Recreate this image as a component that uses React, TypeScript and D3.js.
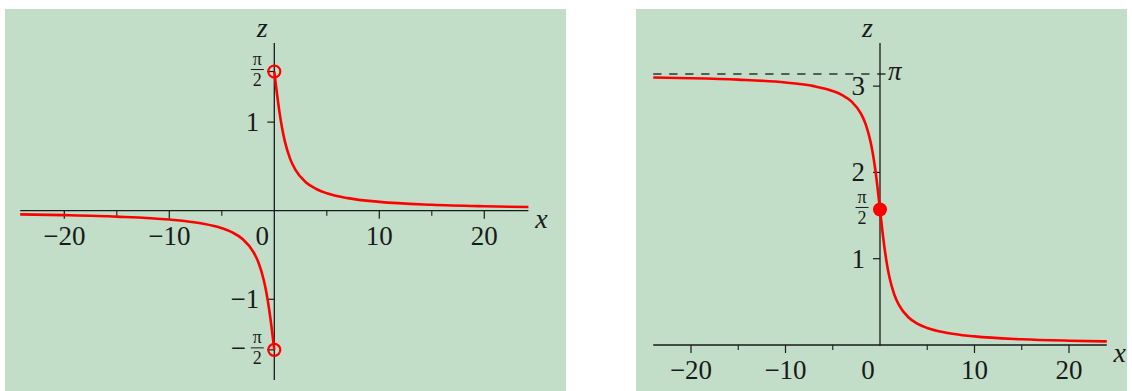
import React from 'react';
import * as d3 from 'd3';

// values: left is z = arccot x with range (-pi/2, pi/2), right with range (0, pi)
const leftPosX = [0, 0.05, 0.1, 0.25, 0.5, 0.75, 1, 1.5, 2, 3, 4, 5, 7, 10, 15, 20, 24.2];
const leftPosZ = [1.571, 1.521, 1.471, 1.326, 1.107, 0.927, 0.785, 0.588, 0.464, 0.322, 0.245, 0.197, 0.142, 0.0997, 0.0666, 0.05, 0.0413];
const leftNegX = [-24.2, -20, -15, -10, -7, -5, -4, -3, -2, -1.5, -1, -0.75, -0.5, -0.25, -0.1, -0.05, 0];
const leftNegZ = [-0.0413, -0.05, -0.0666, -0.0997, -0.142, -0.197, -0.245, -0.322, -0.464, -0.588, -0.785, -0.927, -1.107, -1.326, -1.471, -1.521, -1.571];

const rightX = [-24, -20, -15, -10, -7, -5, -4, -3, -2, -1.5, -1, -0.75, -0.5, -0.25, 0, 0.25, 0.5, 0.75, 1, 1.5, 2, 3, 4, 5, 7, 10, 15, 20, 24];
const rightZ = [3.100, 3.092, 3.075, 3.042, 3.000, 2.944, 2.897, 2.820, 2.678, 2.554, 2.356, 2.214, 2.034, 1.816, 1.571, 1.326, 1.107, 0.927, 0.785, 0.588, 0.464, 0.322, 0.245, 0.197, 0.142, 0.0997, 0.0666, 0.05, 0.0416];

const xMajor = [-20, -10, 0, 10, 20];
const xMinor = [-15, -5, 5, 15];
const leftYTicks = [-1, 1];
const rightYTicks = [1, 2, 3];
const HALF_PI = Math.PI / 2;

const BG = '#c3dec8';
const RED = '#ff0000';
const INK = '#1a1a1a';
const FS = 27;

type Pt = [number, number];
const zip = (xs: number[], zs: number[]): Pt[] => xs.map((x, i) => [x, zs[i]]);
const fmt = (t: number) => (t < 0 ? '\u2212' + Math.abs(t) : String(t));

const txt = (size: number, anchor: string, italic = false): React.CSSProperties => ({
  fontFamily: "'Liberation Serif', 'DejaVu Serif', serif",
  fontSize: size,
  fontStyle: italic ? 'italic' : 'normal',
  textAnchor: anchor as any,
  fill: INK,
});

function Frac({ x, y }: { x: number; y: number }) {
  // pi over 2, centred at x, math axis at y
  const bar = y - 2;
  return (
    <g>
      <text x={x} y={bar - 4.5} style={txt(18, 'middle')}>π</text>
      <line x1={x - 6.5} x2={x + 6.5} y1={bar} y2={bar} stroke={INK} strokeWidth={1} />
      <text x={x} y={bar + 16.5} style={txt(18, 'middle')}>2</text>
    </g>
  );
}

function XAxis({ x, y0 }: { x: d3.ScaleLinear<number, number>; y0: number }) {
  const [a, b] = x.range();
  return (
    <g>
      <line x1={a} x2={b} y1={y0} y2={y0} stroke={INK} strokeWidth={1.3} />
      {xMajor.filter(t => t !== 0).map(t => (
        <line key={'M' + t} x1={x(t)} x2={x(t)} y1={y0} y2={y0 + 8} stroke={INK} strokeWidth={1.2} />
      ))}
      {xMinor.map(t => (
        <line key={'m' + t} x1={x(t)} x2={x(t)} y1={y0} y2={y0 + 5} stroke={INK} strokeWidth={1.1} />
      ))}
      {xMajor.map(t => (
        <text key={t} x={t === 0 ? x(0) - 12 : x(t)} y={y0 + 34} style={txt(FS, 'middle')}>{fmt(t)}</text>
      ))}
      <text x={b + 13} y={y0 + 17} style={txt(28, 'middle', true)}>x</text>
    </g>
  );
}

function LeftPanel() {
  const x = d3.scaleLinear().domain([-24.2, 24.2]).range([20.2, 528.4]);
  const y = d3.scaleLinear().domain([-1.911, 1.893]).range([380, 43]);
  const line = d3.line<Pt>().x(d => x(d[0])).y(d => y(d[1])).curve(d3.curveMonotoneX);
  const x0 = x(0);
  return (
    <g>
      <rect x={5} y={9} width={561} height={382} fill={BG} />
      <XAxis x={x} y0={y(0)} />
      <line x1={x0} x2={x0} y1={y.range()[1]} y2={y.range()[0]} stroke={INK} strokeWidth={1.3} />
      {[...leftYTicks, HALF_PI, -HALF_PI].map(t => (
        <line key={t} x1={x0 - 7} x2={x0} y1={y(t)} y2={y(t)} stroke={INK} strokeWidth={1.2} />
      ))}
      {leftYTicks.map(t => (
        <text key={t} x={x0 - 15} y={y(t) + 9} style={txt(FS, 'end')}>{fmt(t)}</text>
      ))}
      <Frac x={x0 - 17} y={y(HALF_PI)} />
      <Frac x={x0 - 17} y={y(-HALF_PI)} />
      <text x={x0 - 36} y={y(-HALF_PI) + 7} style={txt(FS, 'middle')}>{'\u2212'}</text>
      <text x={x0 - 12} y={37} style={txt(28, 'middle', true)}>z</text>
      <path d={line(zip(leftNegX, leftNegZ)) || ''} fill="none" stroke={RED} strokeWidth={2.6} />
      <path d={line(zip(leftPosX, leftPosZ)) || ''} fill="none" stroke={RED} strokeWidth={2.6} />
      <circle cx={x0} cy={y(HALF_PI)} r={6} fill="none" stroke={RED} strokeWidth={2.2} />
      <circle cx={x0} cy={y(-HALF_PI)} r={6} fill="none" stroke={RED} strokeWidth={2.2} />
    </g>
  );
}

function RightPanel() {
  const x = d3.scaleLinear().domain([-24, 24]).range([653.2, 1106.8]);
  const y = d3.scaleLinear().domain([0, 3.5]).range([345, 43]);
  const line = d3.line<Pt>().x(d => x(d[0])).y(d => y(d[1])).curve(d3.curveMonotoneX);
  const x0 = x(0);
  return (
    <g>
      <rect x={636} y={9} width={491} height={382} fill={BG} />
      <line x1={x(-24)} x2={x(0.8)} y1={y(Math.PI)} y2={y(Math.PI)} stroke="#333" strokeWidth={1.6} strokeDasharray="8.3,7.7" />
      <XAxis x={x} y0={y(0)} />
      <line x1={x0} x2={x0} y1={y.range()[1]} y2={y(0) + 1} stroke={INK} strokeWidth={1.3} />
      {rightYTicks.map(t => (
        <line key={t} x1={x0 - 7} x2={x0} y1={y(t)} y2={y(t)} stroke={INK} strokeWidth={1.2} />
      ))}
      {rightYTicks.map(t => (
        <text key={t} x={x0 - 15} y={y(t) + 9} style={txt(FS, 'end')}>{String(t)}</text>
      ))}
      <Frac x={x0 - 18} y={y(HALF_PI)} />
      <text x={x0 + 8} y={y(Math.PI) + 6} style={txt(FS, 'start', true)}>π</text>
      <text x={x0 - 12.5} y={37} style={txt(28, 'middle', true)}>z</text>
      <path d={line(zip(rightX, rightZ)) || ''} fill="none" stroke={RED} strokeWidth={2.6} />
      <circle cx={x0} cy={y(HALF_PI)} r={7} fill={RED} />
    </g>
  );
}

export default function App() {
  return (
    <svg width={1132} height={391} style={{ position: 'absolute', left: 0, top: 0, background: '#fff' }}>
      <LeftPanel />
      <RightPanel />
    </svg>
  );
}
